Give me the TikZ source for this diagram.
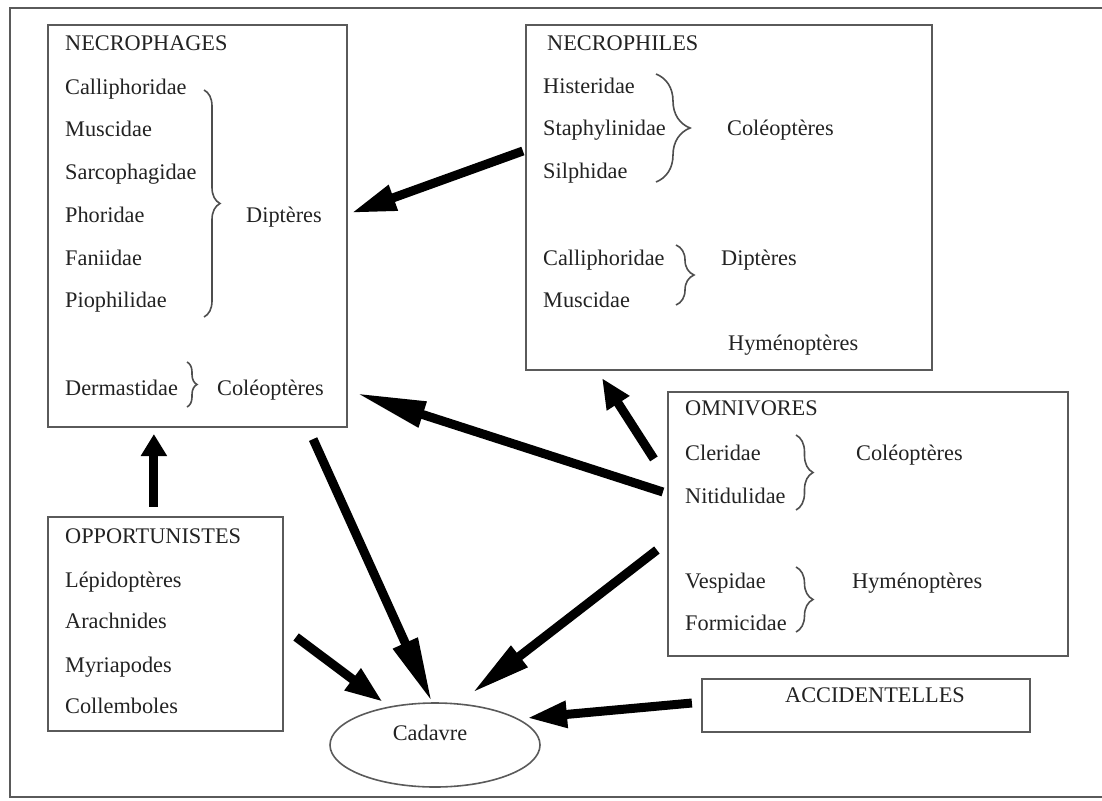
\documentclass[tikz,border=0pt]{standalone}
\usepackage{fontspec}
\setmainfont{Liberation Serif}
\usetikzlibrary{arrows.meta,calc,decorations.pathreplacing,shapes.geometric}
\definecolor{boxgray}{HTML}{5A5A5A}
\definecolor{txt}{HTML}{222222}
\tikzset{
  box/.style={draw=boxgray, line width=2.2pt, rectangle, inner sep=0pt},
  lbl/.style={anchor=base west, inner sep=0pt, text=txt, font=\fontsize{22.3}{26}\selectfont},
  brc/.style={draw=txt!80, line width=1.6pt, decorate, decoration={brace, amplitude=#1}},
  brc/.default=15pt,
  arr/.style={line width=9pt, black, -{Triangle[length=#1, width=25pt]}},
  arr/.default=40pt
}
\begin{document}
\begin{tikzpicture}[x=1pt,y=-1pt]
\useasboundingbox (0,0) rectangle (1102,800);
% outer frame
\draw[draw=boxgray, line width=2.5pt] (10,8) rectangle (1125,797);

% boxes
\node[box, minimum width=299pt, minimum height=402pt] (nphag) at (197.5,226) {};
\node[box, minimum width=406pt, minimum height=345pt] (nphil) at (729,197.5) {};
\node[box, minimum width=400pt, minimum height=264pt] (omni) at (868,524) {};
\node[box, minimum width=328pt, minimum height=53pt] (acc) at (866,705.5) {};
\node[box, minimum width=235pt, minimum height=214pt] (opp) at (165.5,624) {};
\node[draw=boxgray, line width=1.6pt, ellipse, minimum width=210pt, minimum height=84pt, inner sep=0pt] (cad) at (435,745) {};

% NECROPHAGES
\node[lbl] (t1) at (65,51) {NECROPHAGES};
\node[lbl] (t2) at (65,94) {Calliphoridae};
\node[lbl] (t3) at (65,136) {Muscidae};
\node[lbl] (t4) at (65,179) {Sarcophagidae};
\node[lbl] (t5) at (65,222) {Phoridae};
\node[lbl] (t6) at (65,265) {Faniidae};
\node[lbl] (t7) at (65,307) {Piophilidae};
\node[lbl] (t8) at (246,222) {Diptères};
\node[lbl] (t9) at (65,395) {Dermastidae};
\node[lbl] (t10) at (217,395) {Coléoptères};
\draw[brc=16pt] (204,90) -- (204,317);
\draw[brc=10pt] (187,362) -- (187,407);

% NECROPHILES
\node[lbl] (u1) at (547,51) {NECROPHILES};
\node[lbl] (u2) at (543,93) {Histeridae};
\node[lbl] (u3) at (543,135) {Staphylinidae};
\node[lbl] (u4) at (543,178) {Silphidae};
\node[lbl] (u5) at (727,135) {Coléoptères};
\node[lbl] (u6) at (543,265) {Calliphoridae};
\node[lbl] (u7) at (543,307) {Muscidae};
\node[lbl] (u8) at (721,265) {Diptères};
\node[lbl] (u9) at (728,350) {Hyménoptères};
\draw[brc=34pt] (656,74) -- (656,182);
\draw[brc=18pt] (676,245) -- (676,305);

% OMNIVORES
\node[lbl] (v1) at (685,415) {OMNIVORES};
\node[lbl] (v2) at (685,460) {Cleridae};
\node[lbl] (v3) at (685,503) {Nitidulidae};
\node[lbl] (v4) at (856,460) {Coléoptères};
\node[lbl] (v5) at (685,588) {Vespidae};
\node[lbl] (v6) at (685,630) {Formicidae};
\node[lbl] (v7) at (852,588) {Hyménoptères};
\draw[brc=17pt] (796,435) -- (796,510);
\draw[brc=17pt] (796,567) -- (796,632);

% ACCIDENTELLES
\node[lbl] (w1) at (785,702) {ACCIDENTELLES};

% OPPORTUNISTES
\node[lbl] (x1) at (65,543) {OPPORTUNISTES};
\node[lbl] (x2) at (65,587) {Lépidoptères};
\node[lbl] (x3) at (65,628) {Arachnides};
\node[lbl] (x4) at (65,672) {Myriapodes};
\node[lbl] (x5) at (65,713) {Collemboles};

% Cadavre
\node[lbl, anchor=base] (c1) at (430,740) {Cadavre};

% arrows
\draw[arr=45pt] ($(nphil.west)+(-2,-46.5)$) -- ($(nphag.east)+(3,-13)$);
\draw[arr=70pt] ($(omni.west)+(-4,-32)$) -- ($(nphag.south east)+(8,-35)$);
\draw[arr=30pt] ($(omni.north west)+(-13,68)$) -- ($(nphil.south)+(-127,7)$);
\draw[arr=60pt] ($(omni.west)+(-10,26)$) -- ($(cad.center)+(37,-52)$);
\draw[arr=65pt] ($(nphag.south east)+(-35,11)$) -- ($(cad.north)+(-3,0)$);
\draw[arr=22pt] ($(opp.north west)+(107,-9)$) -- ($(nphag.south west)+(107,6)$);
\draw[arr=38pt] ($(opp.east)+(12,13)$) -- ($(cad.center)+(-52,-43)$);
\draw[arr=40pt] ($(acc.west)+(-9,-2.5)$) -- ($(cad.center)+(92,-27)$);
\end{tikzpicture}
\end{document}
